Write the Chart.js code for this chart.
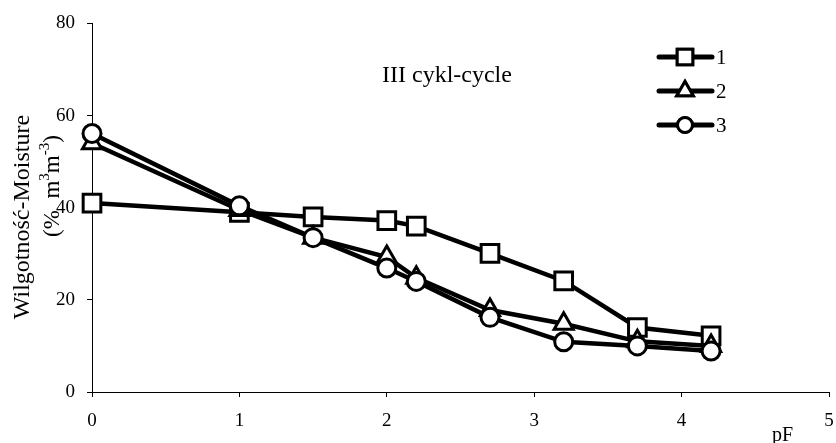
<!DOCTYPE html>
<html>
<head>
<meta charset="utf-8">
<script src="https://cdn.jsdelivr.net/npm/chart.js@4.4.1/dist/chart.umd.min.js"></script>
<style>
html,body{margin:0;padding:0;background:#fff;}
canvas{display:block;}
</style>
</head>
<body>
<canvas id="c" width="836" height="443"></canvas>
<script>
// ---- data ----
const pF = [0, 1, 1.5, 2, 2.2, 2.7, 3.2, 3.7, 4.2];
const series1 = [41, 39, 38, 37.2, 36, 30.1, 24.1, 14, 12.2];
const series2 = [54, 39.5, 33.5, 29.3, 24.8, 17.8, 14.8, 11, 10];
const series3 = [56.1, 40.4, 33.5, 26.9, 24, 16.2, 10.9, 10, 8.9];
const seriesNames = ['1', '2', '3'];
const xTicks = [0, 1, 2, 3, 4, 5];
const yTicks = [0, 20, 40, 60, 80];
const annotationText = 'III cykl-cycle';
const xTitle = 'pF';
const yTitleLine1 = 'Wilgotność-Moisture';

const FONT = '"Liberation Serif", "Times New Roman", serif';

function pts(ys) { return pF.map((x, i) => ({x: x, y: ys[i]})); }

const styles = [
  {pointStyle: 'rect', pointRadius: 12.5, legendRadius: 11},
  {pointStyle: 'triangle', pointRadius: 11, legendRadius: 9.5},
  {pointStyle: 'circle', pointRadius: 9, legendRadius: 7.5}
];
const allSeries = [series1, series2, series3];

const datasets = allSeries.map((s, i) => ({
  label: seriesNames[i],
  data: pts(s),
  borderColor: '#000',
  borderWidth: 4.5,
  pointStyle: styles[i].pointStyle,
  pointRadius: styles[i].pointRadius,
  pointBackgroundColor: '#fff',
  pointBorderColor: '#000',
  pointBorderWidth: 3,
  tension: 0,
  fill: false,
  clip: false,
  order: 2 - i
}));

const extras = {
  id: 'extras',
  afterDraw(chart) {
    const ctx = chart.ctx;
    ctx.save();
    ctx.fillStyle = '#000';
    // annotation
    ctx.font = '24px ' + FONT;
    ctx.textAlign = 'left';
    ctx.textBaseline = 'alphabetic';
    ctx.fillText(annotationText, 382, 82);
    // x title
    ctx.font = '20px ' + FONT;
    ctx.fillText(xTitle, 772, 441);
    // legend
    const rowsY = [57, 91, 125];
    chart.data.datasets.forEach((ds, i) => {
      const y = rowsY[i];
      ctx.strokeStyle = '#000';
      ctx.lineWidth = 5;
      ctx.lineCap = 'round';
      ctx.beginPath();
      ctx.moveTo(659, y);
      ctx.lineTo(712, y);
      ctx.stroke();
      ctx.lineWidth = 3;
      ctx.fillStyle = '#fff';
      Chart.helpers.drawPoint(ctx, {pointStyle: ds.pointStyle, radius: styles[i].legendRadius, borderWidth: 3, rotation: 0}, 685, y);
      ctx.fill();
      ctx.stroke();
      ctx.fillStyle = '#000';
      ctx.font = '21px ' + FONT;
      ctx.textBaseline = 'middle';
      ctx.textAlign = 'left';
      ctx.fillText(ds.label, 716, y + 1);
    });
    // y title line 1
    ctx.save();
    ctx.translate(29, 217);
    ctx.rotate(-Math.PI / 2);
    ctx.font = '24px ' + FONT;
    ctx.textAlign = 'center';
    ctx.textBaseline = 'alphabetic';
    ctx.fillStyle = '#000';
    ctx.fillText(yTitleLine1, 0, 0);
    ctx.restore();
    // y title line 2 with superscripts
    ctx.save();
    ctx.translate(59, 186);
    ctx.rotate(-Math.PI / 2);
    ctx.fillStyle = '#000';
    ctx.textBaseline = 'alphabetic';
    ctx.textAlign = 'left';
    const parts = [
      {t: '(%  m', sup: false},
      {t: '3', sup: true},
      {t: 'm', sup: false},
      {t: '-3', sup: true},
      {t: ')', sup: false}
    ];
    const big = '23px ' + FONT, small = '15px ' + FONT;
    let total = 0;
    parts.forEach(p => { ctx.font = p.sup ? small : big; total += ctx.measureText(p.t).width; });
    let x = -total / 2;
    parts.forEach(p => {
      ctx.font = p.sup ? small : big;
      ctx.fillText(p.t, x, p.sup ? -10 : 0);
      x += ctx.measureText(p.t).width;
    });
    ctx.restore();
    ctx.restore();
  }
};

new Chart(document.getElementById('c'), {
  type: 'line',
  data: {datasets: datasets},
  options: {
    responsive: false,
    animation: false,
    layout: {autoPadding: false, padding: {top: 23, right: 7, left: 0, bottom: 0}},
    plugins: {legend: {display: false}, tooltip: {enabled: false}, title: {display: false}},
    scales: {
      x: {
        type: 'linear', min: 0, max: 5,
        afterBuildTicks: s => { s.ticks = xTicks.map(v => ({value: v})); },
        afterFit: s => { s.height = 51; },
        ticks: {color: '#000', font: {family: FONT, size: 19, lineHeight: 2.55}, padding: 0, maxRotation: 0},
        grid: {drawOnChartArea: false, drawTicks: true, tickLength: 5, color: '#000', lineWidth: 1},
        border: {display: true, color: '#000', width: 1}
      },
      y: {
        type: 'linear', min: 0, max: 80,
        afterBuildTicks: s => { s.ticks = yTicks.map(v => ({value: v})); },
        afterFit: s => { s.width = 92; },
        ticks: {color: '#000', font: {family: FONT, size: 19}, padding: 12},
        grid: {drawOnChartArea: false, drawTicks: true, tickLength: 5, color: '#000', lineWidth: 1},
        border: {display: true, color: '#000', width: 1}
      }
    }
  },
  plugins: [extras]
});
</script>
</body>
</html>
